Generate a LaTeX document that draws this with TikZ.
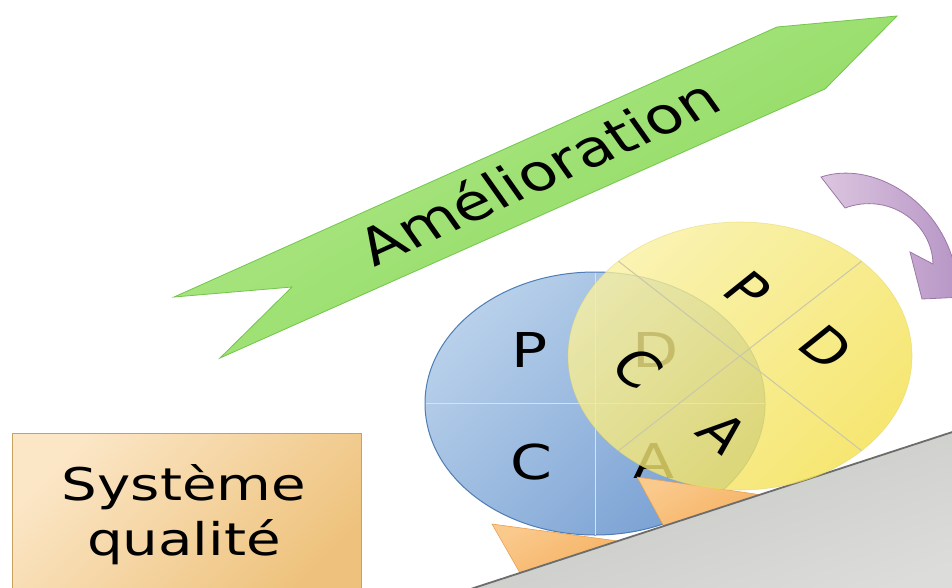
\documentclass[tikz,border=0pt]{standalone}
\usepackage{fontspec}
\setmainfont{DejaVu Sans}
\definecolor{greenL}{HTML}{B2E98C}
\definecolor{greenD}{HTML}{8AD85A}
\definecolor{greenB}{HTML}{72C64A}
\definecolor{purpleL}{HTML}{DCC6E0}
\definecolor{purpleD}{HTML}{B08CC0}
\definecolor{purpleB}{HTML}{9C78AA}
\definecolor{blueL}{HTML}{B8D0EA}
\definecolor{blueD}{HTML}{78A0D3}
\definecolor{blueB}{HTML}{4D7DB5}
\definecolor{blueLine}{HTML}{D4E2F2}
\definecolor{yellowL}{HTML}{F9F0A0}
\definecolor{yellowD}{HTML}{F4E150}
\definecolor{yellowB}{HTML}{E0D060}
\definecolor{yellowLine}{HTML}{CAC7A8}
\definecolor{boxL}{HTML}{FBE6C6}
\definecolor{boxD}{HTML}{EEC27C}
\definecolor{boxB}{HTML}{C8A060}
\definecolor{chockL}{HTML}{FAC98C}
\definecolor{chockD}{HTML}{F4AD5A}
\definecolor{chockB}{HTML}{EAA050}
\definecolor{greyL}{HTML}{C4C6C2}
\definecolor{greyD}{HTML}{DCDDDA}
\definecolor{greyLine}{HTML}{6C6C6C}
\begin{document}
\begin{tikzpicture}[x=1pt,y=-1pt,
  lettr/.style={font=\fontsize{48}{58}\selectfont, inner sep=0pt, text=black},
  bigtext/.style={font=\fontsize{45}{55}\selectfont, inner sep=0pt, text=black, anchor=base},
  amelstyle/.style={font=\fontsize{50.5}{60}\selectfont, inner sep=0pt, text=black, anchor=base},
  chock/.style={draw=chockB, line width=0.6pt, top color=chockL, bottom color=chockD, shading angle=30},
]
\useasboundingbox (0,0) rectangle (952,587);
\clip (0,0) rectangle (952,587);
\fill[white] (0,0) rectangle (952,587);

% Green banner
\shade[draw=greenB, line width=0.8pt, top color=greenL, bottom color=greenD, shading angle=30]
  (174,297) -- (777,27) -- (897,16) -- (825,89) -- (220,358) -- (292,287) -- cycle;
\node[amelstyle, xscale=1.25, rotate=29.5] (amel) at (550,188) {Amélioration};

% Purple curved arrow
\shade[draw=purpleB, line width=0.8pt, left color=purpleL, right color=purpleD]
  (821,177) .. controls (872,160) and (940,200) .. (955,268) -- (985,296) -- (922,299)
  -- (910,252) -- (933,264) .. controls (932,222) and (888,192) .. (845,208) -- cycle;

% Orange box
\shade[draw=boxB, line width=1pt, top color=boxL, bottom color=boxD, shading angle=45]
  (12,433) rectangle (361,600);
\node[bigtext, xscale=1.25] (sq1) at (184,500) {Système};
\node[bigtext, xscale=1.25] (sq2) at (184,555) {qualité};

% Blue circle
\shade[draw=blueB, line width=1pt, top color=blueL, bottom color=blueD, shading angle=45]
  (595,403.5) ellipse [x radius=170pt, y radius=131.5pt];
\draw[blueLine, line width=1pt] (595,272.5) -- (595,534.5);
\draw[blueLine, line width=1pt] (425.5,403.5) -- (764.5,403.5);
\node[lettr, xscale=1.25] (bP) at (530,350) {P};
\node[lettr, xscale=1.25] (bD) at (656,350) {D};
\node[lettr, xscale=1.25] (bC) at (531,462) {C};
\node[lettr, xscale=1.25] (bA) at (654,461) {A};

% Chocks
\shade[chock] (492,524) -- (640,544) -- (524,580) -- cycle;
\shade[chock] (637,477) -- (790,499) -- (667,532) -- cycle;

% Slope
\shade[top color=greyL, bottom color=greyD, shading angle=20]
  (470,589.2) -- (965,427.9) -- (965,600) -- (470,600) -- cycle;
\draw[greyLine, line width=1.8pt] (470,589.2) -- (965,427.9);

% Yellow circle
\shade[draw=yellowB, line width=0.6pt, draw opacity=0.5, fill opacity=0.8,
  top color=yellowL, bottom color=yellowD, shading angle=45]
  (740,356) ellipse [x radius=172pt, y radius=134pt];
\draw[yellowLine, line width=1pt] (618.4,261.25) -- (861.6,450.75);
\draw[yellowLine, line width=1pt] (861.6,261.25) -- (618.4,450.75);
\node[lettr, xscale=1.25, rotate=-45] (yP) at (748,290) {P};
\node[lettr, xscale=1.25, rotate=-45] (yD) at (826,347) {D};
\node[lettr, xscale=1.25, rotate=-45] (yA) at (723,433) {A};
\node[lettr, xscale=1.25, rotate=-45] (yC) at (638,368) {C};
\end{tikzpicture}
\end{document}
